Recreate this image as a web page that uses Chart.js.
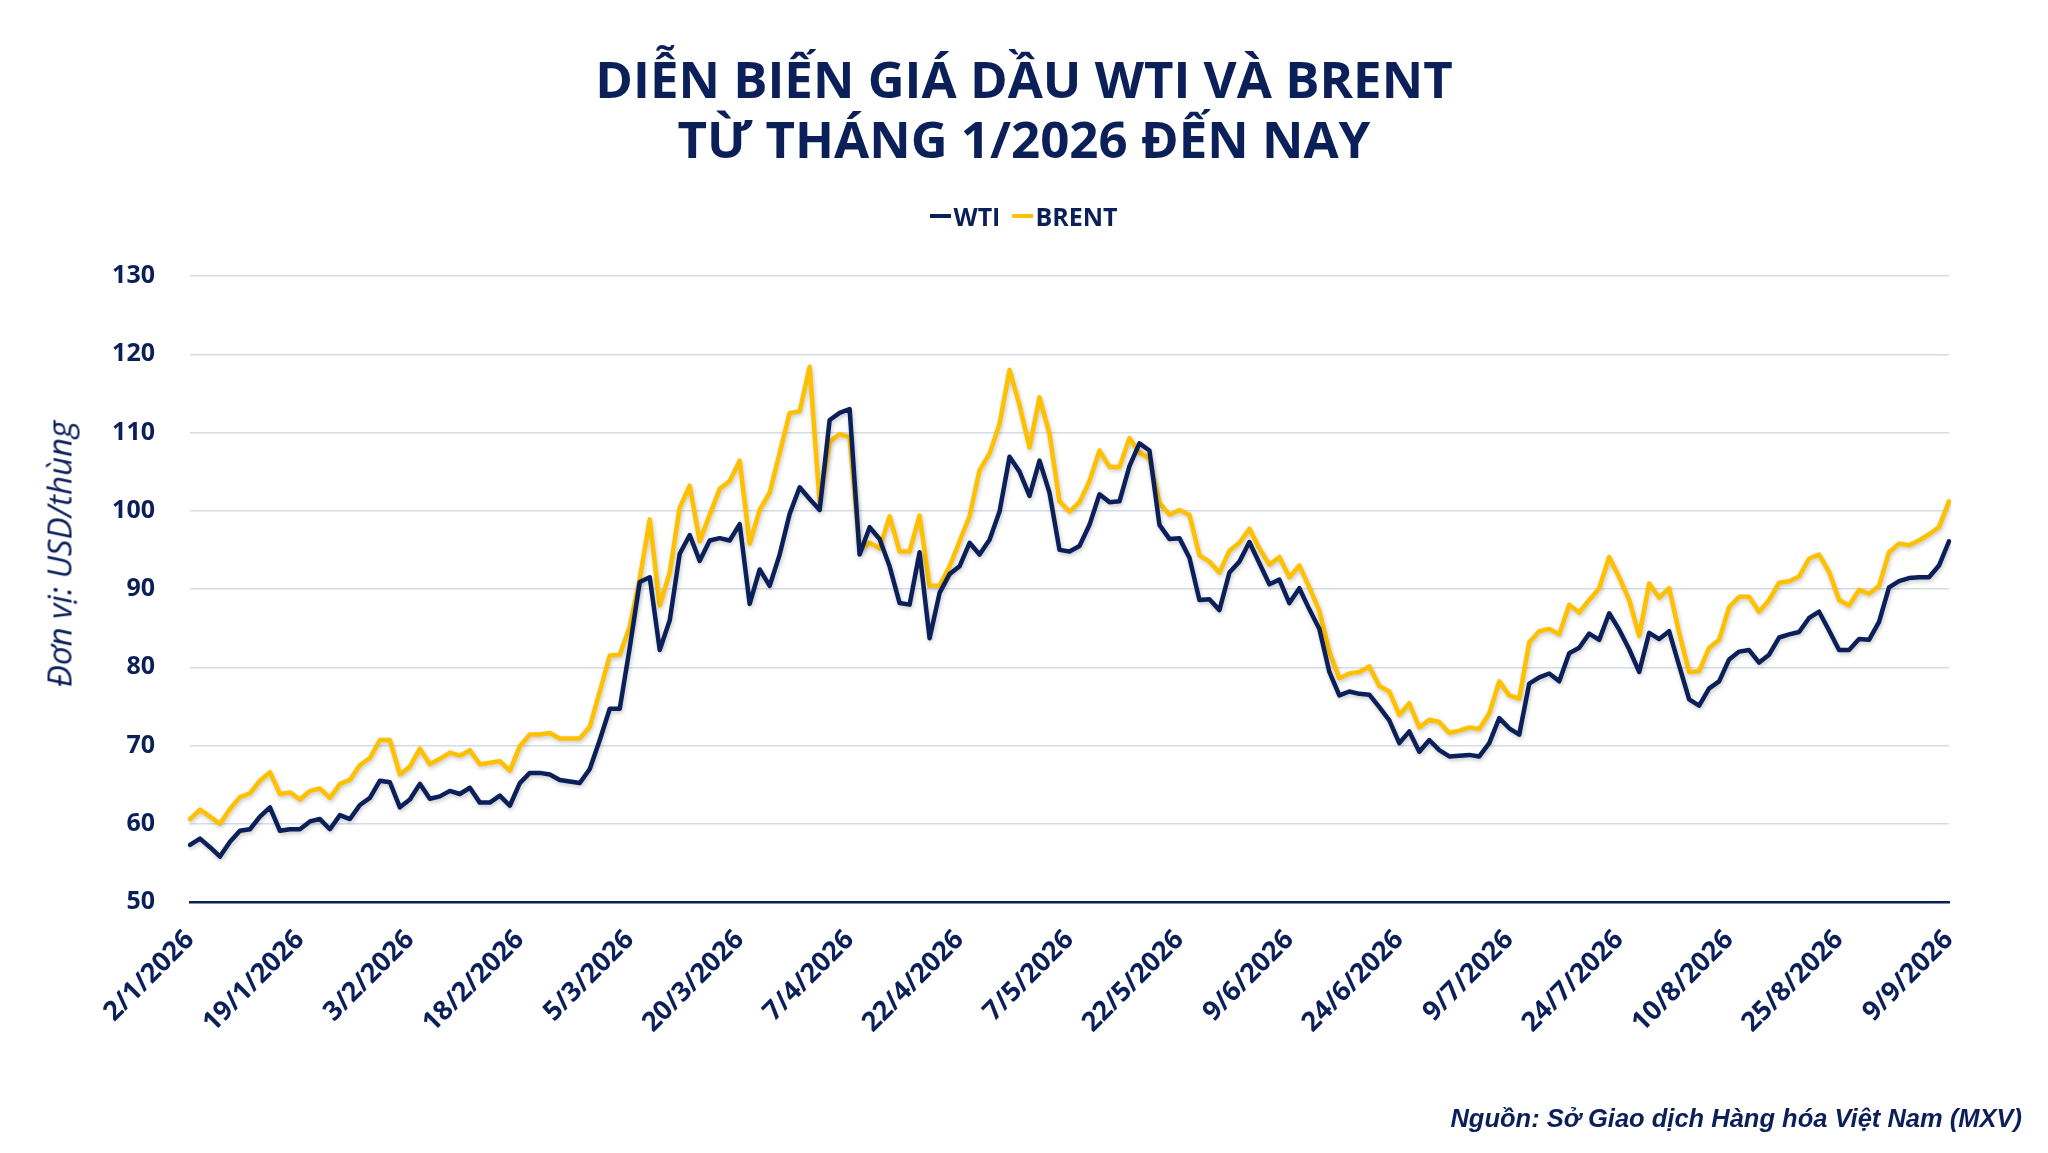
<!DOCTYPE html>
<html lang="vi">
<head>
<meta charset="utf-8">
<title>Diễn biến giá dầu WTI và Brent</title>
<script src="https://cdn.jsdelivr.net/npm/chart.js@4.4.1/dist/chart.umd.min.js"></script>
<style>
  html,body{margin:0;padding:0;background:#fff;}
  #wrap{position:relative;width:2048px;height:1153px;overflow:hidden;font-family:"Open Sans","Noto Sans",sans-serif;color:#0b1f59;}
  #c{position:absolute;left:0;top:0;}
  .title{position:absolute;left:0;top:48px;width:2048px;text-align:center;font-weight:700;font-size:51px;line-height:60px;}
  .legend{position:absolute;left:0;top:199px;width:2048px;display:flex;justify-content:center;align-items:center;font-weight:700;font-size:25px;line-height:34px;}
  .legend .sw{display:inline-block;width:21px;height:4px;margin-right:2px;}
  .legend .it{display:flex;align-items:center;margin:0 6px;}
  .ytitle{position:absolute;left:59px;top:554px;transform:translate(-50%,-50%) rotate(-90deg);white-space:nowrap;font-style:italic;font-size:33px;}
  .source{position:absolute;right:26px;top:1104px;font-family:"Liberation Sans",Arial,sans-serif;font-weight:700;font-style:italic;font-size:25.5px;white-space:nowrap;}
</style>
</head>
<body>
<div id="wrap">
  <canvas id="c" width="2048" height="1153"></canvas>
  <div class="title">DIỄN BIẾN GIÁ DẦU WTI VÀ BRENT<br>TỪ THÁNG 1/2026 ĐẾN NAY</div>
  <div class="legend" id="legend"></div>
  <div class="ytitle">Đơn vị: USD/thùng</div>
  <div class="source">Nguồn: Sở Giao dịch Hàng hóa Việt Nam (MXV)</div>
</div>
<script>
// ── dữ liệu ──
var NAVY = '#0b1f59', GOLD = '#ffc000';

// nhãn trục hoành, cứ 11 phiên giao dịch một nhãn
var tickLabels = ['2/1/2026','19/1/2026','3/2/2026','18/2/2026','5/3/2026','20/3/2026','7/4/2026','22/4/2026',
  '7/5/2026','22/5/2026','9/6/2026','24/6/2026','9/7/2026','24/7/2026','10/8/2026','25/8/2026','9/9/2026'];
var TICK_EVERY = 11;
var holidays = ['3/4','25/5'];

// giá WTI (USD/thùng)
var wti = [
  57.3,58.1,57.0,55.8,57.7,59.1,59.3,60.9,62.1,59.1,59.3,
  59.3,60.3,60.6,59.3,61.1,60.6,62.4,63.3,65.5,65.3,62.1,
  63.1,65.1,63.2,63.5,64.2,63.8,64.6,62.7,62.7,63.6,62.3,
  65.2,66.5,66.5,66.3,65.6,65.4,65.2,67.0,70.7,74.7,74.7,
  82.5,90.9,91.5,82.2,86.0,94.5,96.9,93.6,96.2,96.5,96.2,
  98.3,88.1,92.5,90.4,94.4,99.6,103.0,101.5,100.1,111.6,112.5,
  113.0,94.4,97.9,96.4,92.9,88.2,88.0,94.7,83.7,89.5,91.9,
  92.9,95.9,94.4,96.3,99.9,106.9,105.0,101.9,106.4,102.3,95.0,
  94.8,95.5,98.2,102.1,101.1,101.2,105.7,108.6,107.7,98.2,96.4,
  96.5,94.0,88.6,88.7,87.3,92.1,93.5,96.0,93.3,90.6,91.2,
  88.2,90.1,87.4,84.9,79.4,76.4,76.9,76.6,76.5,74.9,73.2,
  70.3,71.8,69.2,70.7,69.4,68.6,68.7,68.8,68.6,70.3,73.5,
  72.2,71.4,77.9,78.7,79.2,78.2,81.8,82.5,84.3,83.5,86.9,
  84.8,82.3,79.4,84.4,83.6,84.6,80.2,75.9,75.1,77.3,78.2,
  81.0,82.0,82.2,80.6,81.6,83.8,84.2,84.5,86.3,87.1,84.7,
  82.2,82.2,83.6,83.5,85.8,90.2,91.0,91.4,91.5,91.5,93.0,
  96.1
];

// giá Brent (USD/thùng)
var brent = [
  60.6,61.8,60.9,60.0,61.9,63.4,63.9,65.5,66.6,63.8,64.0,
  63.1,64.2,64.5,63.3,65.1,65.6,67.5,68.4,70.7,70.7,66.3,
  67.3,69.6,67.6,68.3,69.1,68.7,69.4,67.6,67.8,68.0,66.8,
  69.9,71.4,71.4,71.6,70.9,70.9,70.9,72.4,76.9,81.5,81.6,
  85.2,91.3,98.9,87.9,92.1,100.4,103.2,96.1,99.5,102.8,103.8,
  106.4,95.8,100.1,102.3,107.4,112.5,112.7,118.4,101.0,108.8,109.8,
  109.4,95.0,95.9,95.2,99.3,94.8,94.8,99.4,90.4,90.4,92.9,
  96.1,99.3,105.2,107.3,111.1,118.0,113.5,108.1,114.5,109.8,101.2,
  99.9,101.1,103.8,107.7,105.6,105.6,109.3,107.4,106.7,101.0,99.5,
  100.1,99.5,94.3,93.5,92.1,94.9,95.9,97.7,95.2,93.1,94.1,
  91.5,93.0,90.2,87.2,82.0,78.6,79.2,79.4,80.1,77.6,76.9,
  73.9,75.4,72.3,73.3,73.0,71.6,71.9,72.3,72.1,74.1,78.2,
  76.4,76.0,83.2,84.6,84.9,84.2,88.0,87.0,88.6,90.1,94.1,
  91.5,88.6,84.0,90.7,88.9,90.1,84.4,79.4,79.5,82.5,83.5,
  87.7,89.0,89.0,87.1,88.6,90.8,91.0,91.6,93.9,94.4,92.2,
  88.6,87.9,89.9,89.4,90.4,94.7,95.8,95.6,96.2,97.0,97.9,
  101.2
];

// ngày giao dịch: thứ 2 - thứ 6, bỏ ngày nghỉ
function tradingDays(n){
  var out = [], d = new Date(2026,0,2);
  while(out.length<n){
    var wd = d.getDay(), key = d.getDate()+'/'+(d.getMonth()+1);
    if(wd!==0 && wd!==6 && holidays.indexOf(key)<0) out.push(key+'/2026');
    d.setDate(d.getDate()+1);
  }
  return out;
}
var days = tradingDays(wti.length);

// ── legend ──
var series = [{name:'WTI',color:NAVY,data:wti},{name:'BRENT',color:GOLD,data:brent}];
document.getElementById('legend').innerHTML = series.map(function(s){
  return '<span class="it"><span class="sw" style="background:'+s.color+'"></span>'+s.name+'</span>';
}).join('');

// ── bóng đổ nhẹ cho đường ──
var lineShadow = {
  id:'lineShadow',
  beforeDatasetDraw:function(chart){
    var ctx = chart.ctx; ctx.save();
    ctx.shadowColor='rgba(0,0,0,0.22)'; ctx.shadowBlur=4; ctx.shadowOffsetX=1; ctx.shadowOffsetY=2;
  },
  afterDatasetDraw:function(chart){ chart.ctx.restore(); }
};

var AREA = {left:190, right:1949, top:276, bottom:902, W:2048, H:1153};

new Chart(document.getElementById('c'),{
  type:'line',
  data:{
    labels:days,
    datasets:series.map(function(s){
      return {label:s.name,data:s.data,borderColor:s.color,backgroundColor:s.color,borderWidth:4.5,
        pointRadius:0,tension:0,borderJoinStyle:'round',borderCapStyle:'round',fill:false};
    })
  },
  plugins:[lineShadow],
  options:{
    responsive:false,animation:false,devicePixelRatio:1,
    layout:{padding:{left:0,right:AREA.W-AREA.right,top:AREA.top,bottom:0}},
    plugins:{legend:{display:false},title:{display:false},tooltip:{enabled:false}},
    scales:{
      x:{
        type:'category',offset:false,
        afterFit:function(sc){ sc.height = AREA.H-AREA.bottom; },
        grid:{display:false,drawTicks:false},
        border:{display:true,color:NAVY,width:2.5},
        ticks:{autoSkip:false,maxRotation:45,minRotation:45,padding:22,color:NAVY,
          font:{family:'"Open Sans"',weight:'bold',size:27},
          callback:function(v,i){ return i%TICK_EVERY===0 ? tickLabels[i/TICK_EVERY] : ''; }}
      },
      y:{
        min:50,max:130,
        afterFit:function(sc){ sc.width = AREA.left; },
        grid:{color:function(c){ return c.tick && c.tick.value===50 ? 'rgba(0,0,0,0)' : '#d6dbe6'; },lineWidth:1.5,drawTicks:false},
        border:{display:false},
        ticks:{stepSize:10,padding:35,color:NAVY,font:{family:'"Open Sans"',weight:'bold',size:25}}
      }
    }
  }
});
</script>
</body>
</html>
